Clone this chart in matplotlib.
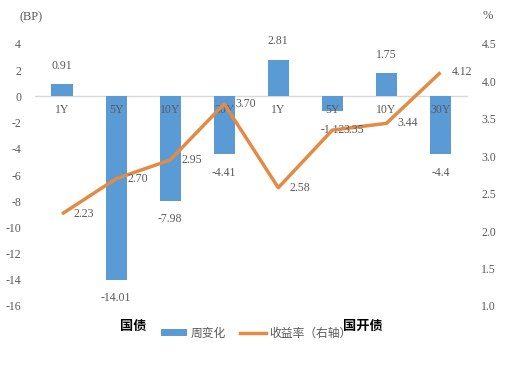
import matplotlib
matplotlib.use("Agg")
import matplotlib.pyplot as plt
from matplotlib.patches import Patch
from matplotlib.lines import Line2D

categories = ["1Y", "5Y", "10Y", "30Y", "1Y", "5Y", "10Y", "30Y"]
weekly_change = [0.91, -14.01, -7.98, -4.41, 2.81, -1.12, 1.75, -4.4]
weekly_labels = ["0.91", "-14.01", "-7.98", "-4.41", "2.81", "-1.12", "1.75", "-4.4"]
yields = [2.23, 2.70, 2.95, 3.70, 2.58, 3.35, 3.44, 4.12]
yield_labels = ["2.23", "2.70", "2.95", "3.70", "2.58", "3.35", "3.44", "4.12"]
left_ticks = [4, 2, 0, -2, -4, -6, -8, -10, -12, -14, -16]
right_ticks = [1.0, 1.5, 2.0, 2.5, 3.0, 3.5, 4.0, 4.5]
groups = ["国债", "国开债"]

num_font = "Liberation Serif"
cjk = ["Noto Sans CJK SC", "DejaVu Sans"]
gray = "#595959"
bar_color = "#5B9BD5"
line_color = "#E38B45"

fig = plt.figure(figsize=(5.08, 3.66), dpi=100)
ax = fig.add_axes([35 / 508, 1 - 306 / 366, (467.5 - 35) / 508, (306 - 44) / 366])
ax2 = ax.twinx()

x = list(range(len(categories)))
ax.bar(x, weekly_change, width=0.39, color=bar_color, zorder=2)
ax.axhline(0, color="#D9D9D9", lw=1, zorder=1)
ax.set_xlim(-0.5, len(categories) - 0.5)
ax.set_ylim(-16, 4)
ax.set_yticks(left_ticks)
ax.set_yticklabels([str(t) for t in left_ticks], fontfamily=num_font, fontsize=8.5, color=gray)
ax.tick_params(axis="y", length=0, pad=10)
ax.set_xticks([])
for s in ax.spines.values():
    s.set_visible(False)

for i, c in enumerate(categories):
    ax.text(i, -0.6, c, ha="center", va="top", fontfamily=num_font, fontsize=8.5, color=gray, zorder=3)

for i, (v, lab) in enumerate(zip(weekly_change, weekly_labels)):
    if v >= 0:
        ax.annotate(lab, (i, v), xytext=(0, 9), textcoords="offset points", ha="center", va="bottom",
                    fontfamily=num_font, fontsize=8.5, color=gray)
    else:
        ax.annotate(lab, (i, v), xytext=(0, -9), textcoords="offset points", ha="center", va="top",
                    fontfamily=num_font, fontsize=8.5, color=gray)

ax2.plot(x, yields, color=line_color, lw=2.5, zorder=3, solid_capstyle="butt")
ax2.set_ylim(1.0, 4.5)
ax2.set_yticks(right_ticks)
ax2.set_yticklabels([f"{t:.1f}" for t in right_ticks], fontfamily=num_font, fontsize=8.5, color=gray)
ax2.tick_params(axis="y", length=0, pad=10)
for s in ax2.spines.values():
    s.set_visible(False)
for i, (v, lab) in enumerate(zip(yields, yield_labels)):
    ax2.annotate(lab, (i, v), xytext=(8, 0), textcoords="offset points", ha="left", va="center",
                 fontfamily=num_font, fontsize=8.5, color=gray)

fig.text(20 / 508, 1 - 17 / 366, "(BP)", fontfamily=num_font, fontsize=9, color=gray, ha="left", va="center")
fig.text(483 / 508, 1 - 16 / 366, "%", fontfamily=num_font, fontsize=9, color=gray, ha="left", va="center")

fig.text(133 / 508, 1 - 326 / 366, groups[0], family=cjk, fontsize=9.5, fontweight="bold", color="black",
         ha="center", va="center")
fig.text(363 / 508, 1 - 326 / 366, groups[1], family=cjk, fontsize=9.5, fontweight="bold", color="black",
         ha="center", va="center")

handles = [Patch(facecolor=bar_color), Line2D([0], [0], color=line_color, lw=2.5)]
leg = fig.legend(handles, ["周变化", "收益率（右轴）"], loc="center", bbox_to_anchor=(256 / 508, 1 - 333 / 366),
                 ncol=2, frameon=False, prop={"family": cjk, "size": 8.5}, handlelength=2.2, handleheight=0.5,
                 columnspacing=1.2, handletextpad=0.3)
for t in leg.get_texts():
    t.set_color(gray)

fig.savefig("out.png", dpi=100)
